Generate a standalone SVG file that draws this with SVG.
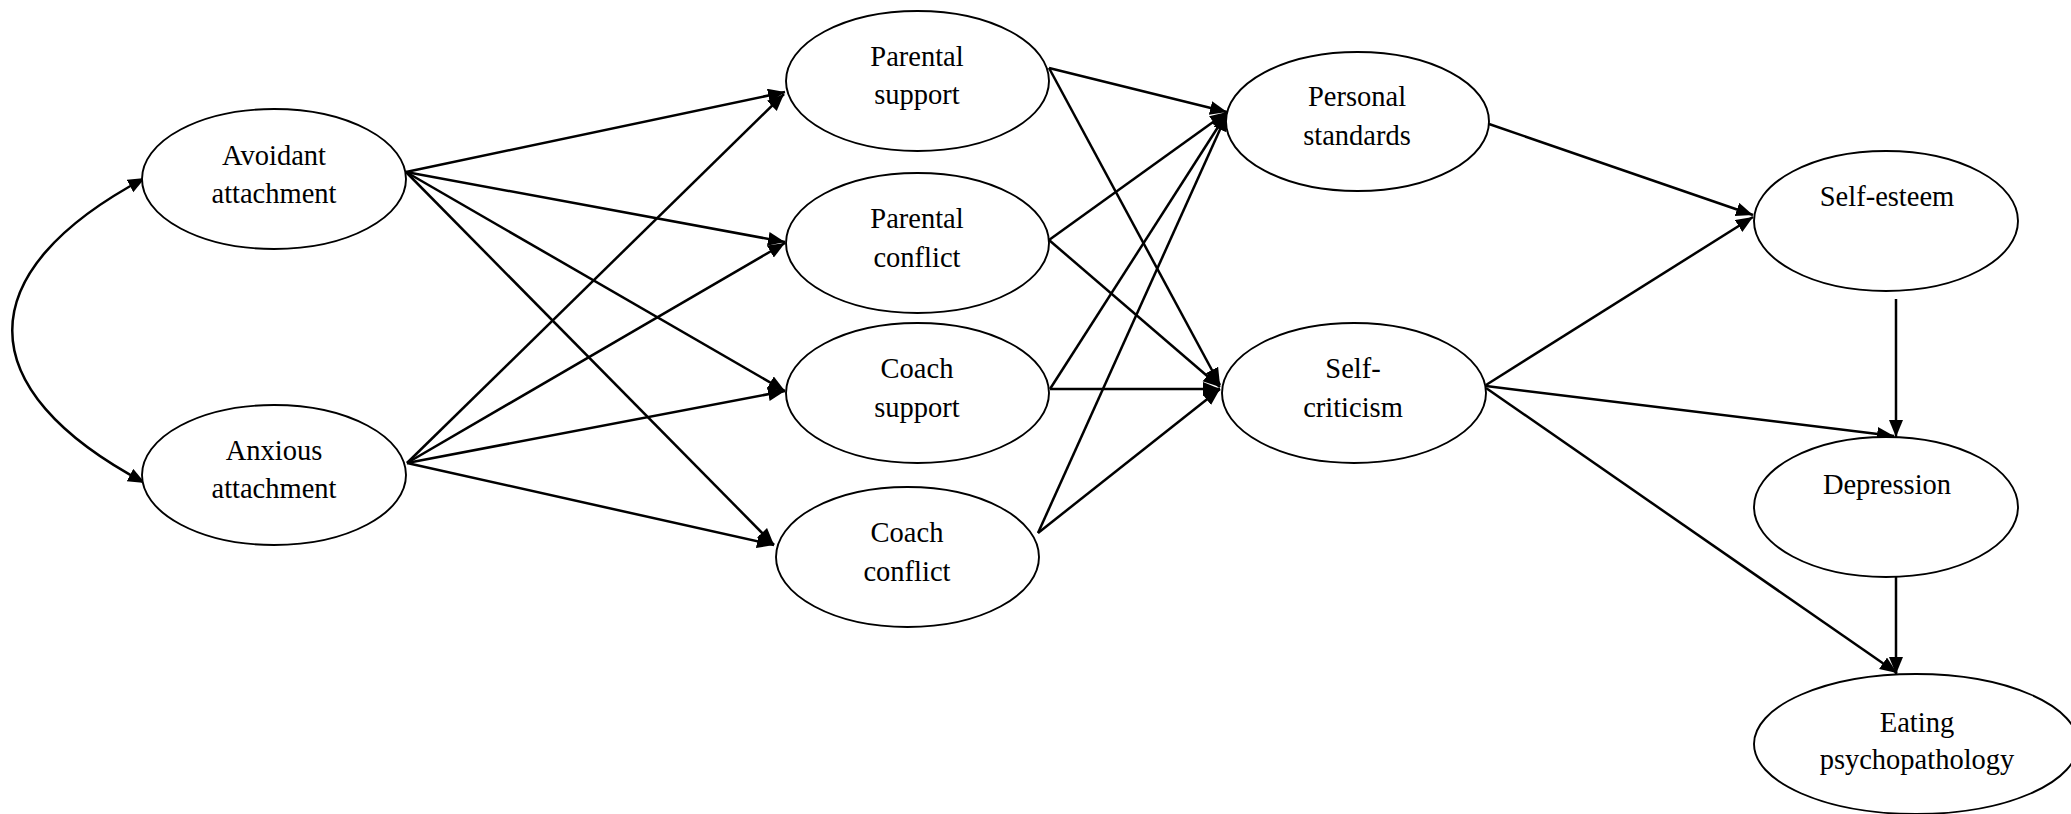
<svg xmlns="http://www.w3.org/2000/svg" width="2071" height="814" viewBox="0 0 2071 814">
<style>
.node ellipse{fill:#fff;stroke:#000;stroke-width:1.9}
.node text{font-family:"Liberation Serif","Times New Roman",serif;font-size:28.5px;fill:#000;text-anchor:middle}
.edges line,.edges path{stroke:#000;stroke-width:2.5;fill:none;marker-end:url(#ah)}
</style>
<defs>
<marker id="ah" markerUnits="userSpaceOnUse" markerWidth="20" markerHeight="16" refX="17" refY="7" orient="auto-start-reverse"><path d="M0,0 L17,7 L0,14 z" fill="#000"/></marker>
</defs>
<rect width="2071" height="814" fill="#fff"/>
<g class="edges">
<path d="M145,178 C-32,272 -32,389 145,483" style="marker-start:url(#ah)"/>
<line x1="406" y1="172" x2="785" y2="92"/>
<line x1="406" y1="172" x2="785" y2="242"/>
<line x1="406" y1="172" x2="785" y2="391"/>
<line x1="406" y1="172" x2="774" y2="545"/>
<line x1="407" y1="463" x2="784" y2="94"/>
<line x1="407" y1="463" x2="785" y2="243"/>
<line x1="407" y1="463" x2="785" y2="391"/>
<line x1="407" y1="463" x2="774" y2="545"/>
<line x1="1049" y1="68" x2="1227" y2="112"/>
<line x1="1049" y1="68" x2="1220" y2="385"/>
<line x1="1049" y1="240" x2="1227" y2="112"/>
<line x1="1049" y1="240" x2="1220" y2="387"/>
<line x1="1050" y1="389" x2="1227" y2="113"/>
<line x1="1050" y1="389" x2="1220" y2="389"/>
<line x1="1038" y1="533" x2="1227" y2="114"/>
<line x1="1038" y1="533" x2="1220" y2="389"/>
<line x1="1489" y1="124" x2="1753" y2="215"/>
<line x1="1486" y1="385" x2="1753" y2="217"/>
<line x1="1486" y1="386" x2="1894" y2="436"/>
<line x1="1486" y1="388" x2="1897" y2="673"/>
<line x1="1896" y1="299" x2="1896" y2="437"/>
<line x1="1896" y1="577" x2="1896" y2="674"/>
</g>
<g id="avoidant" class="node"><ellipse cx="274" cy="179" rx="132" ry="70"/><text x="274" y="165">Avoidant</text><text x="274" y="203">attachment</text></g>
<g id="anxious" class="node"><ellipse cx="274" cy="475" rx="132" ry="70"/><text x="274" y="460">Anxious</text><text x="274" y="498">attachment</text></g>
<g id="parental-support" class="node"><ellipse cx="917.5" cy="81" rx="131.5" ry="70"/><text x="917" y="66">Parental</text><text x="917" y="104">support</text></g>
<g id="parental-conflict" class="node"><ellipse cx="917.5" cy="243" rx="131.5" ry="70"/><text x="917" y="228">Parental</text><text x="917" y="267">conflict</text></g>
<g id="coach-support" class="node"><ellipse cx="917.5" cy="393" rx="131.5" ry="70"/><text x="917" y="378">Coach</text><text x="917" y="417">support</text></g>
<g id="coach-conflict" class="node"><ellipse cx="907.5" cy="557" rx="131.5" ry="70"/><text x="907" y="542">Coach</text><text x="907" y="581">conflict</text></g>
<g id="personal-standards" class="node"><ellipse cx="1357.5" cy="121.5" rx="131.5" ry="69.5"/><text x="1357" y="106">Personal</text><text x="1357" y="145">standards</text></g>
<g id="self-criticism" class="node"><ellipse cx="1354" cy="393" rx="132" ry="70"/><text x="1353" y="378">Self-</text><text x="1353" y="417">criticism</text></g>
<g id="self-esteem" class="node"><ellipse cx="1886" cy="221" rx="132" ry="70"/><text x="1887" y="206">Self-esteem</text></g>
<g id="depression" class="node"><ellipse cx="1886" cy="507" rx="132" ry="70"/><text x="1887" y="494">Depression</text></g>
<g id="eating" class="node"><ellipse cx="1916" cy="744" rx="162" ry="70"/><text x="1917" y="732">Eating</text><text x="1917" y="769">psychopathology</text></g>
</svg>
